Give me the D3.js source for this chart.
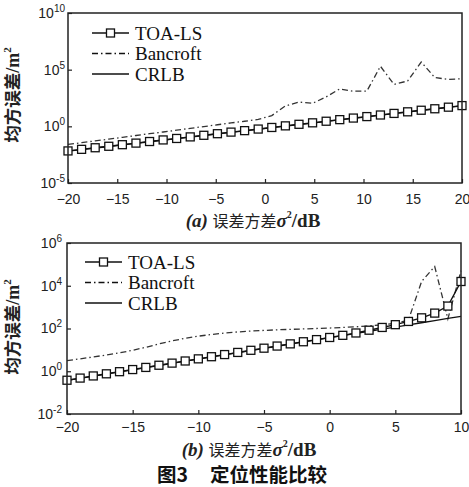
<!DOCTYPE html>
<html>
<head>
<meta charset="utf-8">
<script src="https://cdn.jsdelivr.net/npm/d3@7/dist/d3.min.js"></script>
<style>
  body { margin: 0; background: #fff; }
  svg { display: block; }
</style>
</head>
<body>
<script>
// panel (a): sigma^2 from -20 to 20 dB, 30 samples
var xA = [-20, -18.62, -17.24, -15.86, -14.48, -13.10, -11.72, -10.34, -8.97, -7.59,
	-6.21, -4.83, -3.45, -2.07, -0.69, 0.69, 2.07, 3.45, 4.83, 6.21,
	7.59, 8.97, 10.34, 11.72, 13.10, 14.48, 15.86, 17.24, 18.62, 20];
var toaA = [0.00676, 0.00933, 0.0129, 0.0174, 0.0240, 0.0331, 0.0457, 0.0631, 0.0851, 0.117,
	0.162, 0.224, 0.309, 0.417, 0.575, 0.794, 1.10, 1.51, 2.04, 2.82,
	3.89, 5.37, 7.24, 10.0, 13.8, 19.1, 26.3, 35.5, 49.0, 67.6];
var bancroftA = [0.0251, 0.0363, 0.0525, 0.0741, 0.107, 0.155, 0.224, 0.316, 0.457, 0.661,
	0.955, 1.38, 2.0, 2.82, 4.07, 8.91, 63.1, 138, 107, 398,
	2.0e3, 1.26e3, 1.26e3, 2.0e5, 5.0e3, 1.0e4, 4.68e5, 2.0e4, 1.38e4, 1.58e4];
var crlbA = [0.0065, 0.0089, 0.0123, 0.0166, 0.0229, 0.0316, 0.0437, 0.0603, 0.0813, 0.112,
	0.155, 0.214, 0.295, 0.398, 0.550, 0.759, 1.05, 1.45, 1.95, 2.69,
	3.72, 5.13, 6.92, 9.55, 13.2, 18.2, 25.1, 33.9, 46.8, 64.6];

// panel (b): sigma^2 from -20 to 10 dB, 1 dB steps
var xB = [-20, -19, -18, -17, -16, -15, -14, -13, -12, -11, -10, -9, -8, -7, -6, -5,
	-4, -3, -2, -1, 0, 1, 2, 3, 4, 5, 6, 7, 8, 9, 10];
var toaB = [0.380, 0.479, 0.603, 0.759, 0.955, 1.20, 1.51, 1.91, 2.40, 3.02, 3.80, 4.79,
	6.03, 7.59, 9.55, 12.0, 15.1, 19.1, 24.0, 30.2, 38.0, 47.9, 61.7, 83.2, 112, 151,
	214, 316, 525, 1120, 15800];
var bancroftB = [3.16, 3.80, 4.68, 5.75, 7.24, 9.55, 13.2, 19.1, 26.3, 34.7, 43.7, 52.5,
	61.7, 69.2, 75.9, 81.3, 87.1, 91.2, 95.5, 100, 105, 112, 120, 132, 148, 174,
	251, 15800, 79400, 282, 50100];
var crlbB = [0.372, 0.468, 0.589, 0.741, 0.933, 1.17, 1.48, 1.86, 2.34, 2.95, 3.72, 4.68,
	5.89, 7.41, 9.33, 11.7, 14.8, 18.6, 23.4, 29.5, 37.2, 46.8, 58.9, 74.1, 93.3, 117,
	148, 186, 234, 295, 372];

var xTicksA = [-20, -15, -10, -5, 0, 5, 10, 15, 20];
var yTicksA = [1e-5, 1e0, 1e5, 1e10];
var xTicksB = [-20, -15, -10, -5, 0, 5, 10];
var yTicksB = [1e-2, 1e0, 1e2, 1e4, 1e6];
var seriesNames = ['TOA-LS', 'Bancroft', 'CRLB'];

var W = 469, H = 487;
var svg = d3.select('body').append('svg')
	.attr('width', W)
	.attr('height', H);

var sans = '"Liberation Sans", Arial, sans-serif';
var serif = '"Liberation Serif", "Times New Roman", serif';
var cjk = '"Noto Sans CJK SC", sans-serif';
var dashDot = '6,3,1.5,3';

function drawPanel(p) {
	var x = d3.scaleLinear().domain(p.xDomain).range([p.left, p.right]);
	var y = d3.scaleLog().domain(p.yDomain).range([p.bottom, p.top]);
	var g = svg.append('g');

	// x axis, ticks point inward
	var xAxis = g.append('g')
		.attr('transform', 'translate(0,' + p.bottom + ')')
		.call(d3.axisBottom(x).tickValues(p.xTicks).tickSize(-4).tickSizeOuter(0).tickPadding(p.xPad));
	xAxis.select('.domain').remove();
	xAxis.selectAll('line').attr('stroke', '#222').attr('stroke-width', 1.2);
	xAxis.selectAll('text')
		.attr('font-family', sans)
		.attr('font-size', 14)
		.attr('fill', '#222');

	// y axis with 10^n labels
	var yAxis = g.append('g')
		.attr('transform', 'translate(' + p.left + ',0)')
		.call(d3.axisLeft(y).tickValues(p.yTicks).tickSize(-4).tickSizeOuter(0).tickPadding(p.yPad));
	yAxis.select('.domain').remove();
	yAxis.selectAll('line').attr('stroke', '#222').attr('stroke-width', 1.2);
	yAxis.selectAll('text')
		.attr('font-family', sans)
		.attr('font-size', 14)
		.attr('fill', '#222')
		.text(null)
		.each(function(d) {
			var t = d3.select(this);
			t.append('tspan').text('10');
			t.append('tspan')
				.attr('font-size', 10)
				.attr('dy', '-0.6em')
				.text(Math.round(Math.log10(d)));
		});

	var line = d3.line()
		.x(function(d) { return x(d[0]); })
		.y(function(d) { return y(d[1]); });

	function pairs(xs, ys) {
		return xs.map(function(v, i) { return [v, ys[i]]; });
	}

	g.append('path')
		.attr('d', line(pairs(p.xs, p.bancroft)))
		.attr('fill', 'none')
		.attr('stroke', '#333')
		.attr('stroke-width', 1.3)
		.attr('stroke-dasharray', dashDot);

	g.append('path')
		.attr('d', line(pairs(p.xs, p.crlb)))
		.attr('fill', 'none')
		.attr('stroke', '#111')
		.attr('stroke-width', 1.3);

	g.append('path')
		.attr('d', line(pairs(p.xs, p.toa)))
		.attr('fill', 'none')
		.attr('stroke', '#111')
		.attr('stroke-width', 1.4);

	g.selectAll('rect.mk')
		.data(pairs(p.xs, p.toa))
		.enter()
		.append('rect')
		.attr('class', 'mk')
		.attr('x', function(d) { return x(d[0]) - 4; })
		.attr('y', function(d) { return y(d[1]) - 4; })
		.attr('width', 8)
		.attr('height', 8)
		.attr('fill', '#fff')
		.attr('stroke', '#111')
		.attr('stroke-width', 1.3);

	// frame
	g.append('rect')
		.attr('x', p.left)
		.attr('y', p.top)
		.attr('width', p.right - p.left)
		.attr('height', p.bottom - p.top)
		.attr('fill', 'none')
		.attr('stroke', '#222')
		.attr('stroke-width', 1.5);

	// legend
	var lg = g.append('g');
	seriesNames.forEach(function(name, i) {
		var ly = p.legendY + i * p.legendGap;
		lg.append('line')
			.attr('x1', p.legendX)
			.attr('x2', p.legendX + 37)
			.attr('y1', ly)
			.attr('y2', ly)
			.attr('stroke', '#111')
			.attr('stroke-width', 1.5)
			.attr('stroke-dasharray', name === 'Bancroft' ? dashDot : null);
		if (name === 'TOA-LS') {
			lg.append('rect')
				.attr('x', p.legendX + 18.5 - 4)
				.attr('y', ly - 4)
				.attr('width', 8)
				.attr('height', 8)
				.attr('fill', '#fff')
				.attr('stroke', '#111')
				.attr('stroke-width', 1.3);
		}
		lg.append('text')
			.attr('x', p.legendX + 43)
			.attr('y', ly)
			.attr('dy', '0.35em')
			.attr('font-family', serif)
			.attr('font-size', 19)
			.attr('fill', '#111')
			.text(name);
	});

	// y label
	var yl = g.append('text')
		.attr('transform', 'translate(' + 19 + ',' + p.yLabelY + ') rotate(-90)')
		.attr('text-anchor', 'middle')
		.attr('font-weight', 'bold')
		.attr('fill', '#222');
	yl.append('tspan').attr('font-family', cjk).attr('font-size', 17.5).text('均方误差');
	yl.append('tspan').attr('font-family', serif).attr('font-size', 18).text('/m');
	yl.append('tspan').attr('font-family', serif).attr('font-size', 11).attr('dy', '-0.7em').text('2');

	// x caption
	var xl = g.append('text')
		.attr('x', p.captionX)
		.attr('y', p.captionY)
		.attr('dy', '0.35em')
		.attr('text-anchor', 'middle')
		.attr('fill', '#222');
	xl.append('tspan').attr('font-family', serif).attr('font-size', 19)
		.attr('font-weight', 'bold').attr('font-style', 'italic').text('(' + p.tag + ') ');
	xl.append('tspan').attr('font-family', cjk).attr('font-size', 16).text('误差方差');
	xl.append('tspan').attr('font-family', serif).attr('font-size', 19)
		.attr('font-weight', 'bold').attr('font-style', 'italic').text('σ');
	xl.append('tspan').attr('font-family', serif).attr('font-size', 10)
		.attr('font-weight', 'bold').attr('dy', '-0.9em').text('2');
	xl.append('tspan').attr('font-family', serif).attr('font-size', 19)
		.attr('font-weight', 'bold').attr('dy', '0.47em').text('/dB');
}

drawPanel({
	left: 68, right: 462, top: 13, bottom: 183,
	xDomain: [-20, 20], yDomain: [1e-5, 1e10],
	xTicks: xTicksA, yTicks: yTicksA, xPad: 11, yPad: 3,
	xs: xA, toa: toaA, bancroft: bancroftA, crlb: crlbA,
	legendX: 92, legendY: 33, legendGap: 20.5,
	yLabelY: 95, captionX: 253, captionY: 221, tag: 'a'
});

drawPanel({
	left: 67, right: 461, top: 243, bottom: 414,
	xDomain: [-20, 10], yDomain: [1e-2, 1e6],
	xTicks: xTicksB, yTicks: yTicksB, xPad: 8, yPad: 5,
	xs: xB, toa: toaB, bancroft: bancroftB, crlb: crlbB,
	legendX: 85, legendY: 262, legendGap: 20.5,
	yLabelY: 327, captionX: 249, captionY: 450, tag: 'b'
});

var title = svg.append('text')
	.attr('x', 242)
	.attr('y', 475)
	.attr('dy', '0.35em')
	.attr('text-anchor', 'middle')
	.attr('font-family', cjk)
	.attr('font-weight', 'bold')
	.attr('font-size', 19.5)
	.attr('fill', '#111');
title.append('tspan').text('图3');
title.append('tspan').attr('dx', 22).text('定位性能比较');
</script>
</body>
</html>
